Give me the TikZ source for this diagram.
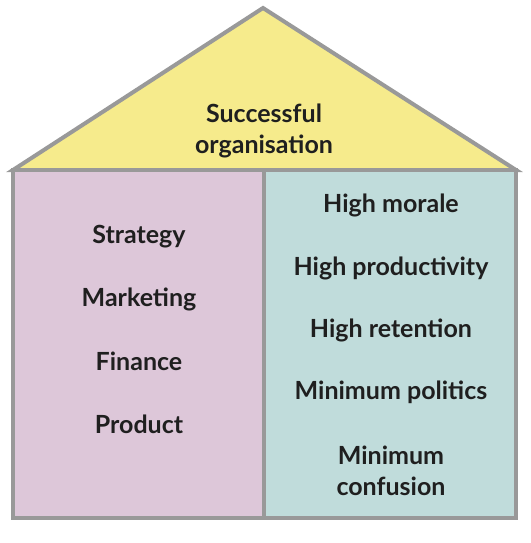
\documentclass[tikz,border=0pt]{standalone}
\usepackage{fontspec}
\setmainfont{Lato}
\definecolor{roofy}{HTML}{F6EB8C}
\definecolor{pinkw}{HTML}{DDC7D9}
\definecolor{tealw}{HTML}{C0DCDB}
\definecolor{edge}{HTML}{999999}
\tikzset{
  part/.style={draw=edge, line width=4pt, line join=miter},
  lbl/.style={font=\bfseries\fontsize{25}{31}\selectfont, text=black!88, align=center, inner sep=0pt}
}
\begin{document}
\begin{tikzpicture}[x=1pt,y=-1pt]
\useasboundingbox (0,0) rectangle (530,543);
\fill[white] (0,0) rectangle (530,543);
\coordinate (apex) at (263,8);
\coordinate (rl) at (13,170);
\coordinate (rr) at (516,170);
\coordinate (bl) at (13,518);
\coordinate (bm) at (264,518);
\coordinate (br) at (516,518);
\coordinate (tm) at (264,170);
\filldraw[part, fill=roofy] (rl) -- (apex) -- (rr) -- cycle;
\filldraw[part, fill=pinkw] (rl) rectangle (bm);
\filldraw[part, fill=tealw] (tm) rectangle (br);
\node[lbl] (succ) at (264,131) {Successful\\organisation};
\node[lbl] (strat) at (139,237) {Strategy};
\node[lbl] (mkt) at (139,299) {Marketing};
\node[lbl] (fin) at (139,361) {Finance};
\node[lbl] (prod) at (139,424) {Product};
\node[lbl] (mor) at (391,205) {High morale};
\node[lbl] (prd) at (391,268) {High productivity};
\node[lbl] (ret) at (391,330) {High retention};
\node[lbl] (pol) at (391,392) {Minimum politics};
\node[lbl] (conf) at (391,471) {Minimum\\confusion};
\end{tikzpicture}
\end{document}
